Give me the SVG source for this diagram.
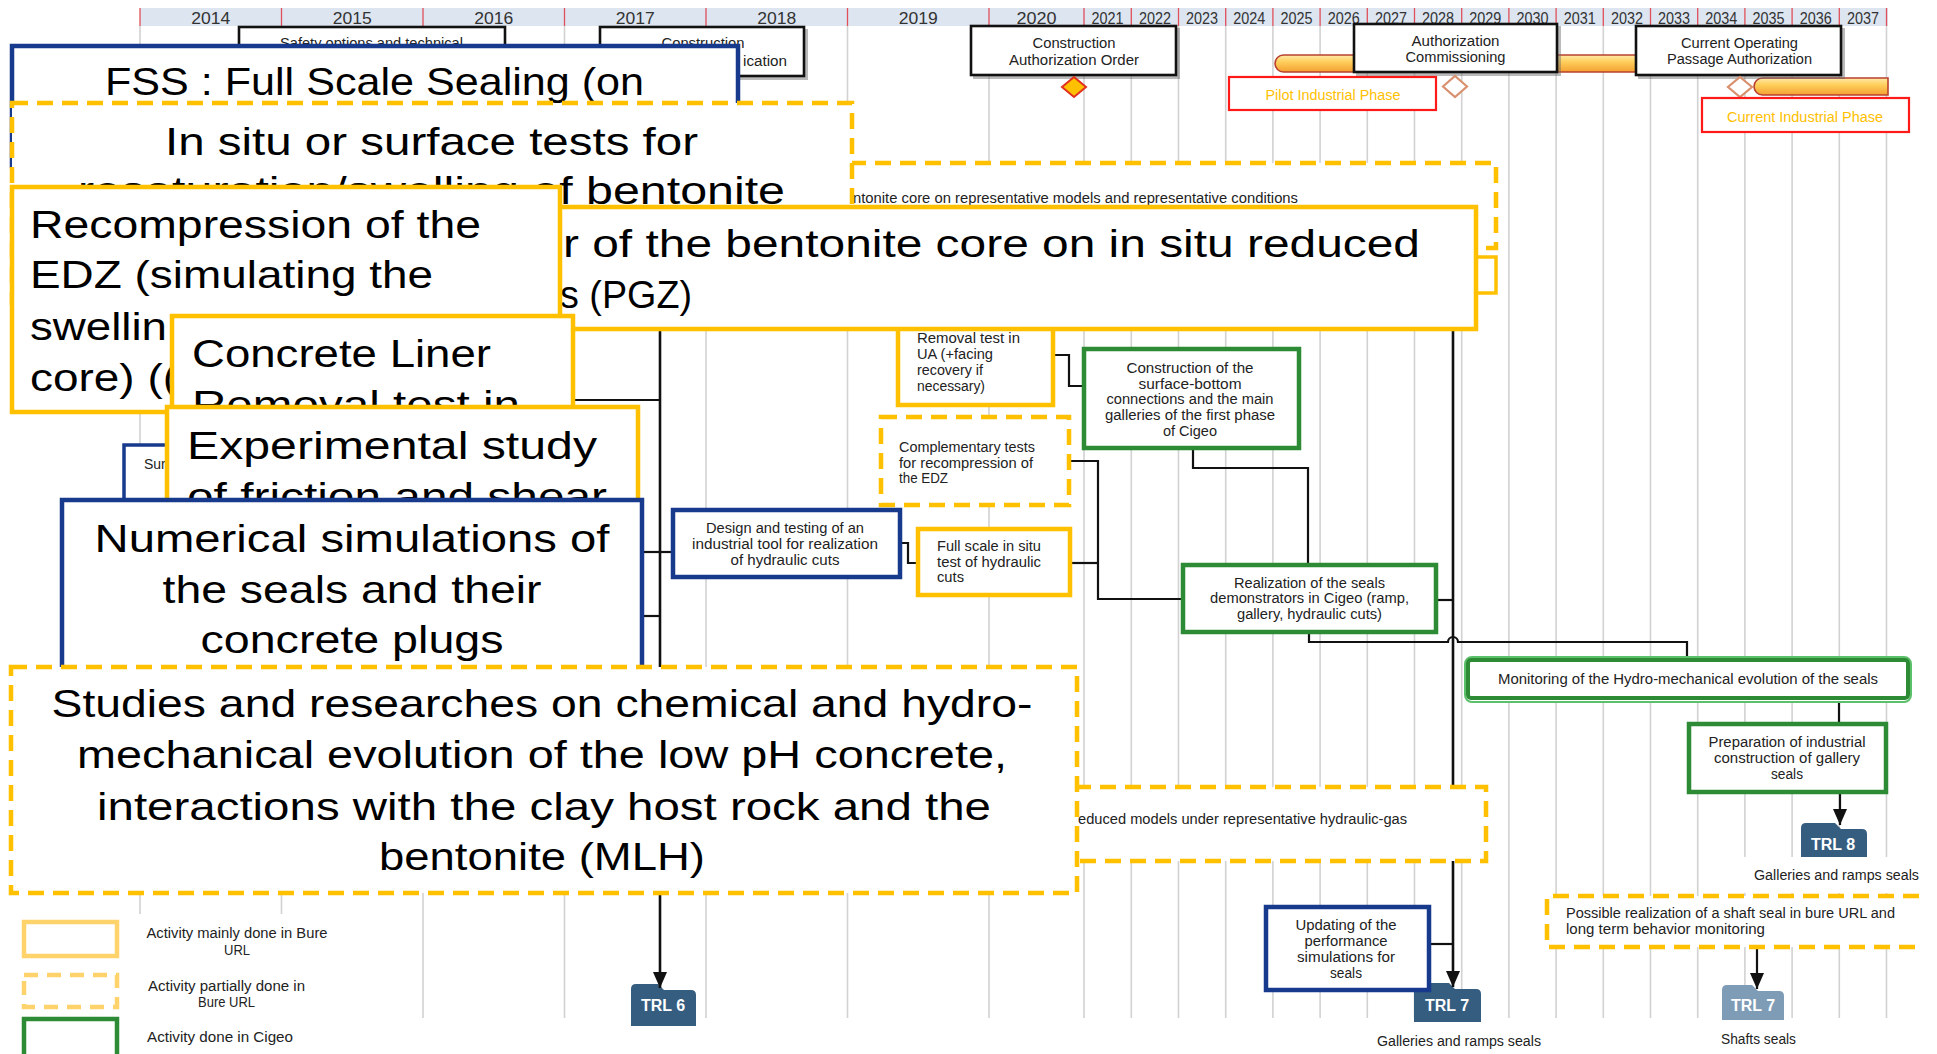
<svg xmlns="http://www.w3.org/2000/svg" width="1937" height="1054" viewBox="0 0 1937 1054">
<defs>
<style>
.g{stroke:#d2d2d2;stroke-width:1.6}
.sep{stroke:#e0505a;stroke-width:1.3}
.yr{font-family:"Liberation Sans",Arial,sans-serif;font-size:16px;fill:#333;text-anchor:middle}
.ms{fill:#fff;stroke:#111;stroke-width:2.6}
.sh{fill:#666;opacity:.45}
.t{font-family:"Liberation Sans",Arial,sans-serif;font-size:14px;fill:#222}
.m{text-anchor:middle}
.e{text-anchor:end}
.big{font-family:"Liberation Sans",Arial,sans-serif;font-size:39px;fill:#000}
.ys{fill:#fff;stroke:#ffc000;stroke-width:4.5}
.yd{fill:#fff;stroke:#ffc000;stroke-width:4.5;stroke-dasharray:16 9}
.bl{fill:#fff;stroke:#183a8c;stroke-width:4.5}
.gr{fill:#fff;stroke:#2e8b35;stroke-width:4.5}
.ph{fill:#fff;stroke:#ff1a1a;stroke-width:2.2}
.pht{font-family:"Liberation Sans",Arial,sans-serif;font-size:14px;fill:#ffc000;text-anchor:middle}
.c{fill:none;stroke:#111;stroke-width:2.2}
.cv{fill:none;stroke:#111;stroke-width:2.6}
.trl{fill:#345d80}
.trll{fill:#7e9cb6}
.trlt{font-family:"Liberation Sans",Arial,sans-serif;font-weight:bold;font-size:16px;fill:#fff;text-anchor:middle}
</style>
<linearGradient id="pipe" x1="0" y1="0" x2="0" y2="1">
<stop offset="0" stop-color="#ffe9a8"/>
<stop offset="0.4" stop-color="#ffcf5c"/>
<stop offset="1" stop-color="#f4a030"/>
</linearGradient>
<marker id="arr" markerUnits="userSpaceOnUse" markerWidth="16" markerHeight="14" refX="16" refY="7" orient="auto">
<path d="M0,0 L16,7 L0,14 Z" fill="#111"/>
</marker>
</defs>
<rect width="1937" height="1054" fill="#fff"/>

<g id="grid">
<path class="g" d="M140 26V1018M281.5 26V1018M423 26V1018M564.5 26V1018M706 26V1018M847.5 26V1018M989 26V1018M1084 26V1018M1131.3 26V1018M1178.5 26V1018M1225.7 26V1018M1272.9 26V1018M1320.1 26V1018M1367.3 26V1018M1414.5 26V1018M1461.7 26V1018M1508.9 26V1018M1556.1 26V1018M1603.3 26V1018M1650.5 26V1018M1697.7 26V1018M1744.9 26V1018M1792.1 26V1018M1839.3 26V1018M1886.5 26V1018"/>
</g>

<g id="timeline">
<rect x="140" y="8" width="1748" height="18" fill="#dce5f0"/>
<path class="sep" d="M140 8V26M281.5 8V26M423 8V26M564.5 8V26M706 8V26M847.5 8V26M989 8V26M1084 8V26M1131.3 8V26M1178.5 8V26M1225.7 8V26M1272.9 8V26M1320.1 8V26M1367.3 8V26M1414.5 8V26M1461.7 8V26M1508.9 8V26M1556.1 8V26M1603.3 8V26M1650.5 8V26M1697.7 8V26M1744.9 8V26M1792.1 8V26M1839.3 8V26M1886.5 8V26"/>
<text class="yr" x="210.7" y="23.5" textLength="39" lengthAdjust="spacingAndGlyphs">2014</text>
<text class="yr" x="352.2" y="23.5" textLength="39" lengthAdjust="spacingAndGlyphs">2015</text>
<text class="yr" x="493.7" y="23.5" textLength="39" lengthAdjust="spacingAndGlyphs">2016</text>
<text class="yr" x="635.2" y="23.5" textLength="39" lengthAdjust="spacingAndGlyphs">2017</text>
<text class="yr" x="776.7" y="23.5" textLength="39" lengthAdjust="spacingAndGlyphs">2018</text>
<text class="yr" x="918.2" y="23.5" textLength="39" lengthAdjust="spacingAndGlyphs">2019</text>
<text class="yr" x="1036.5" y="23.5" textLength="40" lengthAdjust="spacingAndGlyphs">2020</text>
<text class="yr" x="1107.6" y="23.5" textLength="32" lengthAdjust="spacingAndGlyphs">2021</text>
<text class="yr" x="1154.9" y="23.5" textLength="32" lengthAdjust="spacingAndGlyphs">2022</text>
<text class="yr" x="1202.1" y="23.5" textLength="32" lengthAdjust="spacingAndGlyphs">2023</text>
<text class="yr" x="1249.3" y="23.5" textLength="32" lengthAdjust="spacingAndGlyphs">2024</text>
<text class="yr" x="1296.5" y="23.5" textLength="32" lengthAdjust="spacingAndGlyphs">2025</text>
<text class="yr" x="1343.7" y="23.5" textLength="32" lengthAdjust="spacingAndGlyphs">2026</text>
<text class="yr" x="1390.9" y="23.5" textLength="32" lengthAdjust="spacingAndGlyphs">2027</text>
<text class="yr" x="1438.1" y="23.5" textLength="32" lengthAdjust="spacingAndGlyphs">2028</text>
<text class="yr" x="1485.3" y="23.5" textLength="32" lengthAdjust="spacingAndGlyphs">2029</text>
<text class="yr" x="1532.5" y="23.5" textLength="32" lengthAdjust="spacingAndGlyphs">2030</text>
<text class="yr" x="1579.7" y="23.5" textLength="32" lengthAdjust="spacingAndGlyphs">2031</text>
<text class="yr" x="1626.9" y="23.5" textLength="32" lengthAdjust="spacingAndGlyphs">2032</text>
<text class="yr" x="1674.1" y="23.5" textLength="32" lengthAdjust="spacingAndGlyphs">2033</text>
<text class="yr" x="1721.3" y="23.5" textLength="32" lengthAdjust="spacingAndGlyphs">2034</text>
<text class="yr" x="1768.5" y="23.5" textLength="32" lengthAdjust="spacingAndGlyphs">2035</text>
<text class="yr" x="1815.7" y="23.5" textLength="32" lengthAdjust="spacingAndGlyphs">2036</text>
<text class="yr" x="1862.9" y="23.5" textLength="32" lengthAdjust="spacingAndGlyphs">2037</text>
</g>

<g id="ms-safety">
<rect class="ms" x="239" y="27" width="266" height="60"/>
<text class="t m" x="371.5" y="48" textLength="183" lengthAdjust="spacingAndGlyphs">Safety options and technical</text>
</g>
<g id="ms-application">
<rect class="sh" x="602" y="29" width="206" height="51"/>
<rect class="ms" x="600" y="27" width="204" height="49"/>
<text class="t m" x="703" y="48" textLength="83" lengthAdjust="spacingAndGlyphs">Construction</text>
<text class="t e" x="787" y="66" textLength="44" lengthAdjust="spacingAndGlyphs">ication</text>
</g>

<g id="pipes">
<path d="M1283.5 55H1640V72H1283.5A8.5 8.5 0 0 1 1283.5 55Z" fill="url(#pipe)" stroke="#b8412f" stroke-width="1.6"/>
<path d="M1762.5 78H1888V95H1762.5A8.5 8.5 0 0 1 1762.5 78Z" fill="url(#pipe)" stroke="#b8412f" stroke-width="1.6"/>
</g>

<g id="ms-cao">
<rect class="sh" x="973" y="28" width="207" height="51"/>
<rect class="ms" x="971" y="26" width="205" height="49"/>
<text class="t m" x="1074" y="48" textLength="83" lengthAdjust="spacingAndGlyphs">Construction</text>
<text class="t m" x="1074" y="65" textLength="130" lengthAdjust="spacingAndGlyphs">Authorization Order</text>
</g>
<g id="ms-ac">
<rect class="sh" x="1356" y="26" width="205" height="50"/>
<rect class="ms" x="1354" y="24" width="203" height="48"/>
<text class="t m" x="1455.5" y="46" textLength="88" lengthAdjust="spacingAndGlyphs">Authorization</text>
<text class="t m" x="1455.5" y="62" textLength="100" lengthAdjust="spacingAndGlyphs">Commissioning</text>
</g>
<g id="ms-copa">
<rect class="sh" x="1638" y="28" width="207" height="51"/>
<rect class="ms" x="1636" y="26" width="205" height="49"/>
<text class="t m" x="1739.5" y="48" textLength="117" lengthAdjust="spacingAndGlyphs">Current Operating</text>
<text class="t m" x="1739.5" y="64" textLength="145" lengthAdjust="spacingAndGlyphs">Passage Authorization</text>
</g>

<g id="milestones">
<path d="M1074 77L1086 87L1074 97L1062 87Z" fill="#ffc000" stroke="#e0301e" stroke-width="2"/>
<path d="M1455 76L1467 86.5L1455 97L1443 86.5Z" fill="#fff" stroke="#d9906e" stroke-width="2.2"/>
<path d="M1740 77L1752 87L1740 97L1728 87Z" fill="#fff" stroke="#d9906e" stroke-width="2.2"/>
</g>

<g id="phase-pilot">
<rect class="ph" x="1229" y="77" width="207" height="33"/>
<text class="pht" x="1333" y="100" textLength="135" lengthAdjust="spacingAndGlyphs">Pilot Industrial Phase</text>
</g>
<g id="phase-current">
<rect class="ph" x="1702" y="98" width="207" height="34"/>
<text class="pht" x="1805" y="122" textLength="156" lengthAdjust="spacingAndGlyphs">Current Industrial Phase</text>
</g>

<g id="trl6">
<path class="trl" d="M631 1026V989Q631 984 636 984H658L664 990H691Q696 990 696 995V1026Z"/>
<text class="trlt" x="663" y="1011">TRL 6</text>
</g>
<g id="trl7-galleries">
<path class="trl" d="M1414 1022V988Q1414 983 1419 983H1449L1455 989H1476Q1481 989 1481 994V1022Z"/>
<text class="trlt" x="1447" y="1011">TRL 7</text>
</g>
<g id="trl7-shafts">
<path class="trll" d="M1722 1020V990Q1722 985 1727 985H1752L1758 991H1779Q1784 991 1784 996V1020Z"/>
<text class="trlt" x="1753" y="1011">TRL 7</text>
</g>
<g id="trl8">
<path class="trl" d="M1801 862V828Q1801 823 1806 823H1835L1841 829H1862Q1867 829 1867 834V862Z"/>
<text class="trlt" x="1833" y="850">TRL 8</text>
</g>
<g id="label-galleries-top">
<rect x="1742" y="857" width="185" height="36" fill="#fff"/>
<text class="t" x="1754" y="880" textLength="165" lengthAdjust="spacingAndGlyphs">Galleries and ramps seals</text>
</g>

<g id="connectors">
<path class="cv" d="M660 330V988" marker-end="url(#arr)"/>
<path class="cv" d="M1453 330V987" marker-end="url(#arr)"/>
<path class="c" d="M574 400H660"/>
<path class="c" d="M642 552H672"/>
<path class="c" d="M642 616H660"/>
<path class="c" d="M1054 355H1069V386H1083"/>
<path class="c" d="M1193 449V468H1308V564"/>
<path class="c" d="M1070 461H1098V599H1182"/>
<path class="c" d="M1071 563H1098"/>
<path class="c" d="M901 543H908V563H917"/>
<path class="c" d="M1437 600H1453"/>
<path class="c" d="M1309 633V642H1448A5 5 0 0 1 1458 642H1687V657"/>
<path class="c" d="M1839 700V723"/>
<path class="c" d="M1840 793V825" marker-end="url(#arr)"/>
<path class="c" d="M1757 948V989" marker-end="url(#arr)"/>
<path class="c" d="M1430 944H1453"/>
</g>

<g id="n-representative">
<rect class="yd" x="700" y="163" width="796" height="85"/>
<rect fill="#fff" stroke="#ffc000" stroke-width="3.5" x="1300" y="257" width="196" height="36"/>
<text class="t" x="853" y="203" textLength="445" lengthAdjust="spacingAndGlyphs">ntonite core on representative  models and representative conditions</text>
</g>

<g id="n-removal-ua">
<rect class="ys" x="898" y="300" width="155" height="105"/>
<text class="t" x="917" y="343" textLength="103" lengthAdjust="spacingAndGlyphs">Removal test  in</text>
<text class="t" x="917" y="359" textLength="76" lengthAdjust="spacingAndGlyphs">UA (+facing</text>
<text class="t" x="917" y="375" textLength="66" lengthAdjust="spacingAndGlyphs">recovery if</text>
<text class="t" x="917" y="391" textLength="68" lengthAdjust="spacingAndGlyphs">necessary)</text>
</g>

<g id="n-fss">
<rect class="bl" x="12" y="46" width="726" height="120"/>
<text class="big m" x="374.5" y="95" textLength="539" lengthAdjust="spacingAndGlyphs">FSS : Full Scale Sealing (on</text>
</g>

<g id="n-insitu">
<rect class="yd" x="12" y="103" width="840" height="200"/>
<text class="big m" x="431.5" y="155" textLength="533" lengthAdjust="spacingAndGlyphs">In situ or surface tests for</text>
<text class="big m" x="431.5" y="204" textLength="707" lengthAdjust="spacingAndGlyphs">resaturation/swelling of bentonite</text>
</g>

<g id="n-pgz">
<rect class="ys" x="300" y="207" width="1176" height="122"/>
<text class="big" x="563" y="257" textLength="857" lengthAdjust="spacingAndGlyphs">r of the bentonite core on in situ reduced</text>
<text class="big" x="560" y="308" textLength="132" lengthAdjust="spacingAndGlyphs">s (PGZ)</text>
</g>

<g id="n-recompression">
<rect class="ys" x="12" y="187" width="548" height="225"/>
<text class="big" x="30" y="238" textLength="451" lengthAdjust="spacingAndGlyphs">Recompression of the</text>
<text class="big" x="30" y="288" textLength="403" lengthAdjust="spacingAndGlyphs">EDZ (simulating the</text>
<text class="big" x="30" y="340" textLength="137" lengthAdjust="spacingAndGlyphs">swellin</text>
<text class="big" x="30" y="391" textLength="148" lengthAdjust="spacingAndGlyphs">core) ((</text>
</g>

<g id="n-concrete-liner">
<rect class="ys" x="172" y="316" width="401" height="150"/>
<text class="big" x="192" y="367" textLength="299" lengthAdjust="spacingAndGlyphs">Concrete Liner</text>
<text class="big" x="192" y="418" textLength="328" lengthAdjust="spacingAndGlyphs">Removal test  in</text>
</g>

<g id="n-sur">
<rect fill="#fff" stroke="#183a8c" stroke-width="3.5" x="124" y="445" width="150" height="100"/>
<text class="t" x="144" y="469">Sur</text>
</g>

<g id="n-experimental">
<rect class="ys" x="167" y="407" width="471" height="150"/>
<text class="big" x="187" y="459" textLength="410" lengthAdjust="spacingAndGlyphs">Experimental  study</text>
<text class="big" x="187" y="510" textLength="420" lengthAdjust="spacingAndGlyphs">of friction and shear</text>
</g>

<g id="n-numerical">
<rect class="bl" x="62" y="500" width="580" height="200"/>
<text class="big m" x="352" y="552" textLength="515" lengthAdjust="spacingAndGlyphs">Numerical simulations of</text>
<text class="big m" x="352" y="603" textLength="379" lengthAdjust="spacingAndGlyphs">the seals and their</text>
<text class="big m" x="352" y="653" textLength="303" lengthAdjust="spacingAndGlyphs">concrete plugs</text>
</g>

<g id="n-reduced-models">
<rect class="yd" x="900" y="787" width="586" height="74"/>
<text class="t" x="1078" y="824" textLength="329" lengthAdjust="spacingAndGlyphs">educed models under representative hydraulic-gas</text>
</g>

<g id="n-studies">
<rect class="yd" x="11" y="667" width="1066" height="226"/>
<text class="big m" x="542" y="717" textLength="981" lengthAdjust="spacingAndGlyphs">Studies and researches on chemical and hydro-</text>
<text class="big m" x="542" y="768" textLength="930" lengthAdjust="spacingAndGlyphs">mechanical evolution of the low pH concrete,</text>
<text class="big m" x="544" y="820" textLength="894" lengthAdjust="spacingAndGlyphs">interactions with the clay host rock and the</text>
<text class="big m" x="542" y="870" textLength="326" lengthAdjust="spacingAndGlyphs">bentonite (MLH)</text>
</g>

<g id="n-construction-cigeo">
<rect class="gr" x="1084" y="349" width="215" height="99"/>
<text class="t m" x="1190" y="373" textLength="127" lengthAdjust="spacingAndGlyphs">Construction of the</text>
<text class="t m" x="1190" y="389" textLength="103" lengthAdjust="spacingAndGlyphs">surface-bottom</text>
<text class="t m" x="1190" y="404" textLength="167" lengthAdjust="spacingAndGlyphs">connections and the main</text>
<text class="t m" x="1190" y="420" textLength="170" lengthAdjust="spacingAndGlyphs">galleries of the first phase</text>
<text class="t m" x="1190" y="436" textLength="54" lengthAdjust="spacingAndGlyphs">of Cigeo</text>
</g>

<g id="n-complementary">
<rect class="yd" x="881" y="417" width="188" height="88"/>
<text class="t" x="899" y="452" textLength="136" lengthAdjust="spacingAndGlyphs">Complementary tests</text>
<text class="t" x="899" y="468" textLength="134" lengthAdjust="spacingAndGlyphs">for recompression of</text>
<text class="t" x="899" y="483" textLength="49" lengthAdjust="spacingAndGlyphs">the EDZ</text>
</g>

<g id="n-design-tool">
<rect class="bl" x="673" y="510" width="227" height="67"/>
<text class="t m" x="785" y="533" textLength="158" lengthAdjust="spacingAndGlyphs">Design and testing of an</text>
<text class="t m" x="785" y="549" textLength="186" lengthAdjust="spacingAndGlyphs">industrial tool for realization</text>
<text class="t m" x="785" y="565" textLength="109" lengthAdjust="spacingAndGlyphs">of hydraulic cuts</text>
</g>

<g id="n-fullscale-cuts">
<rect class="ys" x="918" y="529" width="152" height="66"/>
<text class="t" x="937" y="551" textLength="104" lengthAdjust="spacingAndGlyphs">Full scale in situ</text>
<text class="t" x="937" y="567" textLength="104" lengthAdjust="spacingAndGlyphs">test of hydraulic</text>
<text class="t" x="937" y="582" textLength="27" lengthAdjust="spacingAndGlyphs">cuts</text>
</g>

<g id="n-realization">
<rect class="gr" x="1183" y="565" width="253" height="67"/>
<text class="t m" x="1309.5" y="588" textLength="151" lengthAdjust="spacingAndGlyphs">Realization of the seals</text>
<text class="t m" x="1309.5" y="603" textLength="199" lengthAdjust="spacingAndGlyphs">demonstrators in Cigeo (ramp,</text>
<text class="t m" x="1309.5" y="619" textLength="145" lengthAdjust="spacingAndGlyphs">gallery, hydraulic cuts)</text>
</g>

<g id="n-monitoring">
<rect x="1465" y="657" width="446" height="45" rx="7" fill="#fff" stroke="#5cc06a" stroke-width="2"/>
<rect x="1468" y="660" width="440" height="38" rx="3" fill="#fff" stroke="#2e8b35" stroke-width="4"/>
<text class="t m" x="1688" y="684" textLength="380" lengthAdjust="spacingAndGlyphs">Monitoring of the Hydro-mechanical evolution of the seals</text>
</g>

<g id="n-preparation">
<rect class="gr" x="1689" y="724" width="197" height="68"/>
<text class="t m" x="1787" y="747" textLength="157" lengthAdjust="spacingAndGlyphs">Preparation of industrial</text>
<text class="t m" x="1787" y="763" textLength="146" lengthAdjust="spacingAndGlyphs">construction of gallery</text>
<text class="t m" x="1787" y="779" textLength="32" lengthAdjust="spacingAndGlyphs">seals</text>
</g>

<g id="n-updating">
<rect class="bl" x="1266" y="907" width="163" height="83"/>
<text class="t m" x="1346" y="930" textLength="101" lengthAdjust="spacingAndGlyphs">Updating of the</text>
<text class="t m" x="1346" y="946" textLength="83" lengthAdjust="spacingAndGlyphs">performance</text>
<text class="t m" x="1346" y="962" textLength="98" lengthAdjust="spacingAndGlyphs">simulations for</text>
<text class="t m" x="1346" y="978" textLength="32" lengthAdjust="spacingAndGlyphs">seals</text>
</g>

<g id="n-shaft-seal">
<rect x="1547" y="896" width="374" height="51" fill="#fff"/>
<path d="M1919 896H1547V947H1919" fill="none" stroke="#ffc000" stroke-width="4.5" stroke-dasharray="16 9"/>
<text class="t" x="1566" y="918" textLength="329" lengthAdjust="spacingAndGlyphs">Possible realization of a shaft seal in bure URL and</text>
<text class="t" x="1566" y="934" textLength="199" lengthAdjust="spacingAndGlyphs">long term behavior monitoring</text>
</g>

<g id="labels">
<text class="t" x="1377" y="1046" textLength="164" lengthAdjust="spacingAndGlyphs">Galleries and ramps seals</text>
<text class="t" x="1721" y="1044" textLength="75" lengthAdjust="spacingAndGlyphs">Shafts seals</text>
</g>

<g id="legend">
<rect x="0" y="914" width="345" height="140" fill="#fff"/>
<rect x="24" y="922" width="93" height="34" fill="#fff" stroke="#ffd36b" stroke-width="4.5"/>
<text class="t m" x="237" y="938" textLength="181" lengthAdjust="spacingAndGlyphs">Activity mainly done in Bure</text>
<text class="t m" x="237" y="955" textLength="26" lengthAdjust="spacingAndGlyphs">URL</text>
<rect x="24" y="975" width="93" height="32" fill="#fff" stroke="#ffd36b" stroke-width="4.5" stroke-dasharray="14 9"/>
<text class="t m" x="226.5" y="991" textLength="157" lengthAdjust="spacingAndGlyphs">Activity partially done in</text>
<text class="t m" x="226.5" y="1007" textLength="57" lengthAdjust="spacingAndGlyphs">Bure URL</text>
<rect x="24" y="1019" width="93" height="42" fill="#fff" stroke="#2e8b35" stroke-width="4.5"/>
<text class="t" x="147" y="1042" textLength="146" lengthAdjust="spacingAndGlyphs">Activity done in  Cigeo</text>
</g>
</svg>
